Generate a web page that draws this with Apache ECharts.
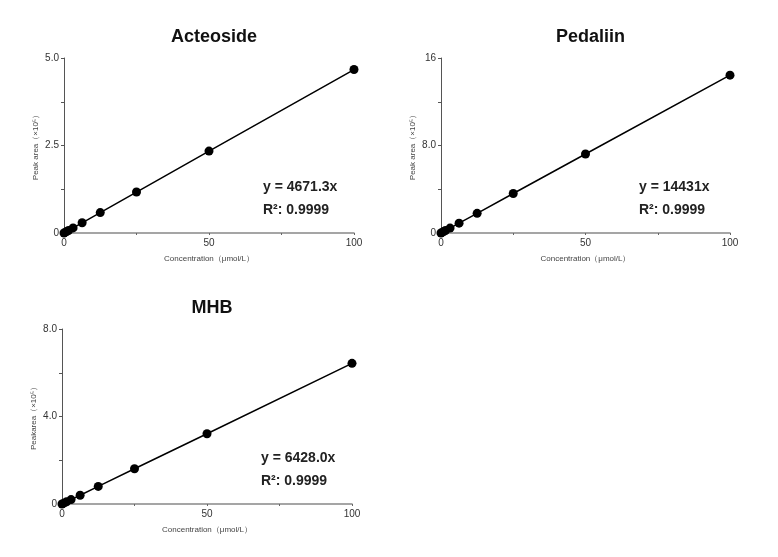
<!DOCTYPE html>
<html>
<head>
<meta charset="utf-8">
<script src="https://cdn.jsdelivr.net/npm/echarts@6/dist/echarts.min.js"></script>
<style>
  html, body { margin: 0; padding: 0; background: #fff; }
  #chart { width: 778px; height: 557px; }
</style>
</head>
<body>
<div id="chart"></div>
<script>
// concentration (µmol/L)
var concentrations = [0, 0.78, 1.56, 3.13, 6.25, 12.5, 25, 50, 100]
// peak area (x10^5)
var acteosideArea = [0, 0.037, 0.073, 0.146, 0.292, 0.584, 1.17, 2.34, 4.67]
var pedaliinArea = [0, 0.113, 0.225, 0.451, 0.902, 1.80, 3.61, 7.22, 14.43]
var mhbArea = [0, 0.050, 0.100, 0.201, 0.402, 0.804, 1.61, 3.21, 6.43]

var titles = ['Acteoside', 'Pedaliin', 'MHB']
var equations = ['y = 4671.3x', 'y = 14431x', 'y = 6428.0x']
var rSquared = ['R²: 0.9999', 'R²: 0.9999', 'R²: 0.9999']
var yMax = [5, 16, 8]
var yInterval = [1.25, 4, 2]
var yLabelStep = [2.5, 8, 4]
var yNames = ['Peak area（×10⁵）', 'Peak area（×10⁵）', 'Peakarea（×10⁵）']

var grids = [
  { left: 64, right: 424, top: 58, bottom: 324 },
  { left: 441, right: 48, top: 58, bottom: 324 },
  { left: 62, right: 426, top: 329, bottom: 53 }
]

function pairs(ys) {
  return concentrations.map(function(x, i) { return [x, ys[i]] })
}
var allData = [acteosideArea, pedaliinArea, mhbArea]

var chart = echarts.init(document.getElementById('chart'))

var xAxes = []
var yAxes = []
var series = []
var titleList = []
var graphics = []

grids.forEach(function(g, i) {
  xAxes.push({
    gridIndex: i,
    type: 'value',
    min: 0,
    max: 100,
    interval: 25,
    name: 'Concentration（μmol/L）',
    nameLocation: 'middle',
    nameGap: 22,
    nameTextStyle: { fontSize: 8, color: '#444', fontFamily: 'Liberation Sans' },
    axisLine: { show: true, lineStyle: { color: '#888', width: 1.5 } },
    axisTick: { show: true, length: 2, lineStyle: { color: '#666' } },
    axisLabel: {
      fontSize: 10,
      color: '#333',
      margin: 5,
      fontFamily: 'Liberation Sans',
      formatter: function(v) { return v % 50 === 0 ? String(v) : '' }
    },
    splitLine: { show: false }
  })
  yAxes.push({
    gridIndex: i,
    type: 'value',
    min: 0,
    max: yMax[i],
    interval: yInterval[i],
    name: yNames[i],
    nameLocation: 'middle',
    nameGap: 24,
    nameTextStyle: { fontSize: 8, color: '#444', fontFamily: 'Liberation Sans' },
    axisLine: { show: true, lineStyle: { color: '#555', width: 1 } },
    axisTick: { show: true, length: 3, lineStyle: { color: '#555' } },
    axisLabel: {
      fontSize: 10,
      color: '#333',
      margin: 5,
      fontFamily: 'Liberation Sans',
      formatter: function(v) {
        if (v === 0) return '0'
        if (Math.abs(v % yLabelStep[i]) > 1e-9) return ''
        return v >= 10 ? String(v) : v.toFixed(1)
      }
    },
    splitLine: { show: false }
  })
  series.push({
    type: 'line',
    xAxisIndex: i,
    yAxisIndex: i,
    data: pairs(allData[i]),
    symbol: 'circle',
    symbolSize: 9,
    showSymbol: true,
    itemStyle: { color: '#000' },
    lineStyle: { color: '#000', width: 1.5 },
    animation: false
  })
  var cx = g.left + (778 - g.left - g.right) / 2
  titleList.push({
    text: titles[i],
    left: cx,
    top: g.top - 35,
    textAlign: 'center',
    textStyle: { fontSize: 18, fontWeight: 'bold', color: '#111', fontFamily: 'Liberation Sans' }
  })
  var plotRight = 778 - g.right
  var plotBottom = 557 - g.bottom
  graphics.push({
    type: 'text',
    left: plotRight - 91,
    top: plotBottom - 57,
    style: {
      text: equations[i] + '\n' + rSquared[i],
      fontSize: 14,
      fontWeight: 'bold',
      lineHeight: 23,
      fill: '#222',
      fontFamily: 'Liberation Sans'
    }
  })
})

chart.setOption({
  backgroundColor: '#fff',
  animation: false,
  title: titleList,
  grid: grids,
  xAxis: xAxes,
  yAxis: yAxes,
  series: series,
  graphic: graphics
})
</script>
</body>
</html>
